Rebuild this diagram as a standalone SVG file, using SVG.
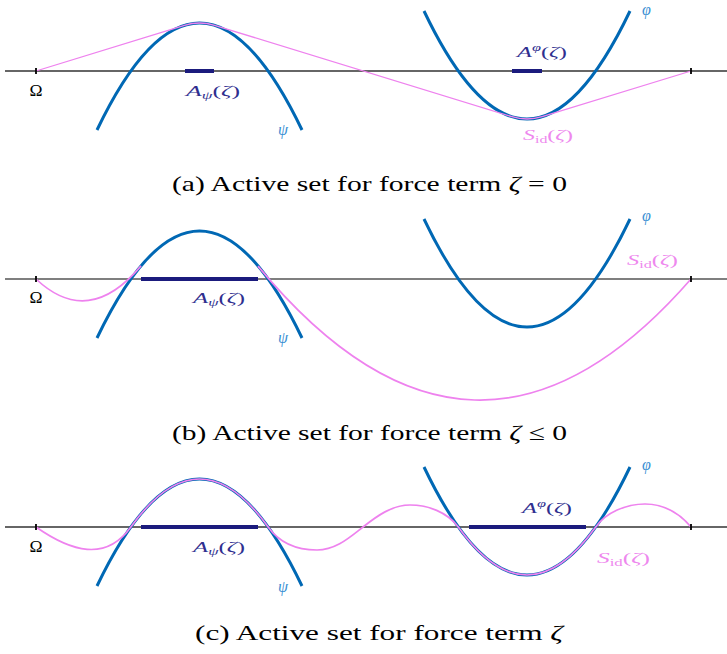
<svg xmlns="http://www.w3.org/2000/svg" width="727" height="654" viewBox="0 0 727 654">
<style>
.axis{stroke:#333;stroke-width:1.3;fill:none}
.tick{stroke:#000;stroke-width:1.8;fill:none}
.obs{stroke:#0068b4;stroke-width:3;fill:none}
.sol{stroke:#ee82ee;stroke-width:1.7;fill:none}
.bar{stroke:#1b1b7d;stroke-width:4;fill:none}
.cap{font-family:"Liberation Serif",serif;font-size:22px;fill:#000}
.lab{font-family:"Liberation Serif",serif;font-size:15px}
.om{font-family:"Liberation Serif",serif;font-size:16px;fill:#000}
.A{fill:#2f2f8f}
.ob{fill:#3a8fd3;font-style:italic;font-size:16px}
.s{fill:#ee88ee}
.it{font-style:italic}
.sub{font-size:10px}
</style>
<rect width="727" height="654" fill="#fff"/>
<g id="panel-a">
<path class="axis" d="M5,71 H727"/>
<path class="obs" d="M97,130 Q199.5,-84 302,130"/>
<path class="obs" d="M424,11 Q527,227 630,11"/>
<path class="sol" d="M36,71 L184.4,25.3 Q199.5,20.7 214.6,25.3 L511.9,116.7 Q527,121.3 542.1,116.7 L691,71" style="stroke-width:1.3"/>
<path class="bar" d="M185,71 H214 M512,71 H542"/>
<path class="tick" d="M36,68 V74 M691,68 V74"/>
<text class="om" x="36" y="96" text-anchor="middle" textLength="13" lengthAdjust="spacingAndGlyphs">Ω</text>
<text class="lab A" x="186" y="96" textLength="54" lengthAdjust="spacingAndGlyphs"><tspan class="it">A</tspan><tspan class="it sub" dy="3">ψ</tspan><tspan dy="-3">(</tspan><tspan class="it">ζ</tspan>)</text>
<text class="lab A" x="517" y="57" textLength="50" lengthAdjust="spacingAndGlyphs"><tspan class="it">A</tspan><tspan class="it sub" dy="-6">φ</tspan><tspan dy="6">(</tspan><tspan class="it">ζ</tspan>)</text>
<text class="lab ob" x="278" y="135">ψ</text>
<text class="lab ob" x="642" y="15">φ</text>
<text class="lab s" x="523" y="140" textLength="50" lengthAdjust="spacingAndGlyphs"><tspan class="it">S</tspan><tspan class="sub" dy="3">id</tspan><tspan dy="-3">(</tspan><tspan class="it">ζ</tspan>)</text>
<text class="cap" x="369.5" y="191" text-anchor="middle" textLength="395" lengthAdjust="spacingAndGlyphs">(a) Active set for force term <tspan class="it">ζ</tspan> = 0</text>
</g>
<g id="panel-b">
<path class="axis" d="M5,279 H727" style="stroke:#555"/>
<path class="obs" d="M97,338 Q199.5,124 302,338"/>
<path class="obs" d="M424,219 Q527,435 630,219"/>
<path class="sol" d="M36,279 Q88.5,328.4 141,265.9 M258,266.1 Q474.5,527.4 691,279"/>
<path class="bar" d="M141,279 H258"/>
<path class="tick" d="M36,276 V282 M691,276 V282"/>
<text class="om" x="36" y="303" text-anchor="middle" textLength="13" lengthAdjust="spacingAndGlyphs">Ω</text>
<text class="lab A" x="193" y="303" textLength="52" lengthAdjust="spacingAndGlyphs"><tspan class="it">A</tspan><tspan class="it sub" dy="3">ψ</tspan><tspan dy="-3">(</tspan><tspan class="it">ζ</tspan>)</text>
<text class="lab ob" x="278" y="343">ψ</text>
<text class="lab ob" x="642" y="221">φ</text>
<text class="lab s" x="627" y="265" textLength="51" lengthAdjust="spacingAndGlyphs"><tspan class="it">S</tspan><tspan class="sub" dy="3">id</tspan><tspan dy="-3">(</tspan><tspan class="it">ζ</tspan>)</text>
<text class="cap" x="369.5" y="440" text-anchor="middle" textLength="395" lengthAdjust="spacingAndGlyphs">(b) Active set for force term <tspan class="it">ζ</tspan> ≤ 0</text>
</g>
<g id="panel-c">
<path class="axis" d="M5,527 H727"/>
<path class="obs" d="M97,586 Q199.5,372 302,586"/>
<path class="obs" d="M424,467 Q527,683 630,467"/>
<path class="sol" d="M36,527 C71,551.5 105.85,562 130.85,527 Q199.5,431 268.15,527 C280,543.6 298,550 317,550 C336,550 350,537 363,527 C377,516 392,505 410,505 C428,505 447,512 458.3,527 Q527,623 595.7,527 C606,512.6 626,504 645,504 C664,504 680,514 691,527"/>
<path class="bar" d="M141,527 H258 M469,527 H586"/>
<path class="tick" d="M36,524 V530 M691,524 V530"/>
<text class="om" x="36" y="552" text-anchor="middle" textLength="13" lengthAdjust="spacingAndGlyphs">Ω</text>
<text class="lab A" x="193" y="552" textLength="52" lengthAdjust="spacingAndGlyphs"><tspan class="it">A</tspan><tspan class="it sub" dy="3">ψ</tspan><tspan dy="-3">(</tspan><tspan class="it">ζ</tspan>)</text>
<text class="lab A" x="522" y="513" textLength="50" lengthAdjust="spacingAndGlyphs"><tspan class="it">A</tspan><tspan class="it sub" dy="-6">φ</tspan><tspan dy="6">(</tspan><tspan class="it">ζ</tspan>)</text>
<text class="lab ob" x="278" y="592">ψ</text>
<text class="lab ob" x="642" y="470">φ</text>
<text class="lab s" x="597" y="563" textLength="53" lengthAdjust="spacingAndGlyphs"><tspan class="it">S</tspan><tspan class="sub" dy="3">id</tspan><tspan dy="-3">(</tspan><tspan class="it">ζ</tspan>)</text>
<text class="cap" x="379" y="640" text-anchor="middle" textLength="368" lengthAdjust="spacingAndGlyphs">(c) Active set for force term <tspan class="it">ζ</tspan></text>
</g>
</svg>
